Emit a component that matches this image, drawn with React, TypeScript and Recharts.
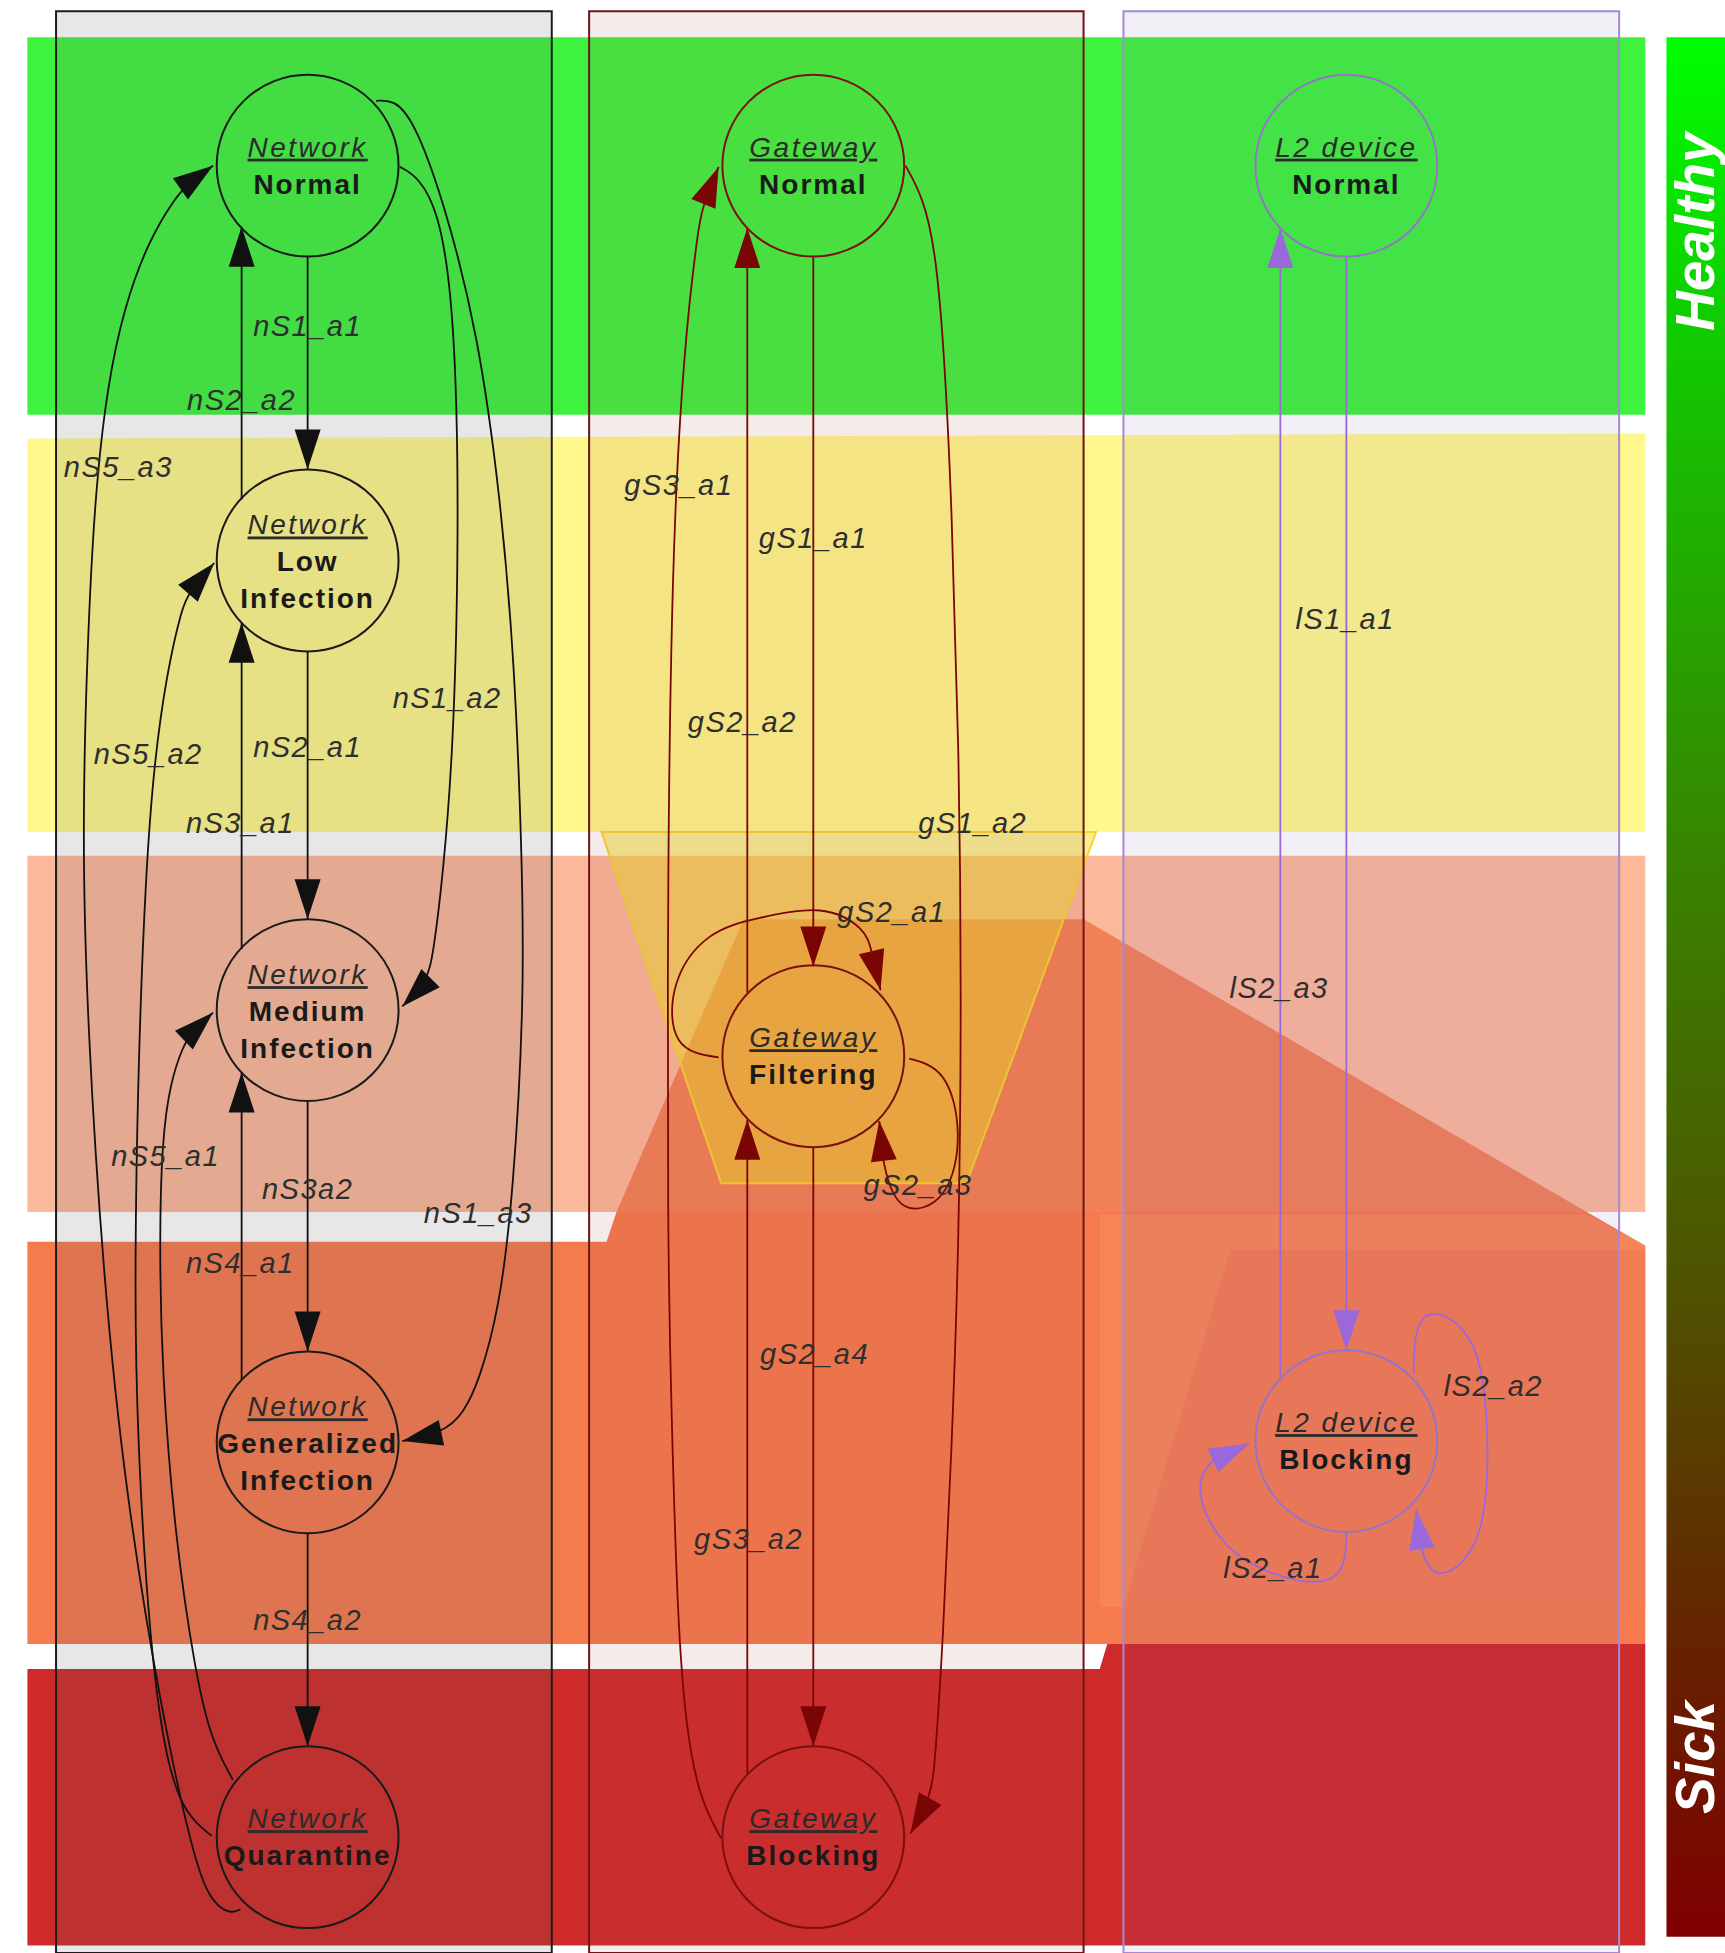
import React from 'react';
import { ScatterChart, Scatter, XAxis, YAxis, Curve } from 'recharts';

// the figure is laid out in its own drawing units, scaled to the page by the axes
const X_MAX = 1385;
const Y_MAX = 1568;
const WIDTH = 1725;
const HEIGHT = 1953;
const K = WIDTH / X_MAX;

type Pt = [number, number];

// health bands, top to bottom
const bandHealthy: Pt[] = [[22, 30], [1321, 30], [1321, 333], [22, 333]];
const bandLow: Pt[] = [[22, 352], [1321, 348], [1321, 668], [22, 668]];
const bandMedium: Pt[] = [[22, 687], [1321, 687], [1321, 973], [22, 973]];
const bandHigh: Pt[] = [[22, 997], [487, 997], [495, 973], [1274, 973], [1321, 1000], [1321, 1320], [22, 1320]];
const bandSick: Pt[] = [[22, 1340], [883, 1340], [889, 1320], [1321, 1320], [1321, 1562], [22, 1562]];

// overlay zones
const gatewaySpread: Pt[] = [[597, 738], [870, 738], [1274, 973], [495, 973]];
const l2Zone: Pt[] = [[883, 975], [1274, 975], [1321, 1000], [1321, 1290], [883, 1290]];
const l2ZoneInner: Pt[] = [[988, 1003], [1321, 1003], [1321, 1290], [902, 1290]];
const filteringFunnel: Pt[] = [[483, 668], [880, 668], [776, 950], [579, 950]];
const healthBar: Pt[] = [[1338, 30], [1385, 30], [1385, 1555], [1338, 1555]];

// component columns
const columnNames = ['net', 'gw', 'l2'];
const columnBoxes: Pt[][] = [
  [[45, 9], [443, 9], [443, 1568], [45, 1568]],
  [[473, 9], [870, 9], [870, 1568], [473, 1568]],
  [[902, 9], [1300, 9], [1300, 1568], [902, 1568]],
];

// states
const nodes = [
  { x: 247, y: 133, group: 'net', kind: 'Network', state: ['Normal'] },
  { x: 247, y: 450, group: 'net', kind: 'Network', state: ['Low', 'Infection'] },
  { x: 247, y: 811, group: 'net', kind: 'Network', state: ['Medium', 'Infection'] },
  { x: 247, y: 1158, group: 'net', kind: 'Network', state: ['Generalized', 'Infection'] },
  { x: 247, y: 1475, group: 'net', kind: 'Network', state: ['Quarantine'] },
  { x: 653, y: 133, group: 'gw', kind: 'Gateway', state: ['Normal'] },
  { x: 653, y: 848, group: 'gw', kind: 'Gateway', state: ['Filtering'] },
  { x: 653, y: 1475, group: 'gw', kind: 'Gateway', state: ['Blocking'] },
  { x: 1081, y: 133, group: 'l2', kind: 'L2 device', state: ['Normal'] },
  { x: 1081, y: 1157, group: 'l2', kind: 'L2 device', state: ['Blocking'] },
];

// transitions: path from source to arrow tip
const edges: { id: string; group: string; path: Pt[] }[] = [
  { id: 'nS1_a1', group: 'net', path: [[247, 206], [247, 377]] },
  { id: 'nS2_a2', group: 'net', path: [[194, 401], [194, 182]] },
  { id: 'nS2_a1', group: 'net', path: [[247, 523], [247, 738]] },
  { id: 'nS3_a1', group: 'net', path: [[194, 762], [194, 500]] },
  { id: 'nS3a2', group: 'net', path: [[247, 884], [247, 1085]] },
  { id: 'nS4_a1', group: 'net', path: [[194, 1108], [194, 861]] },
  { id: 'nS4_a2', group: 'net', path: [[247, 1231], [247, 1402]] },
  { id: 'nS1_a2', group: 'net', path: [[321, 134], [336, 142], [352, 170], [362, 230], [367, 320], [368, 450], [364, 600], [356, 700], [348, 765], [343, 788], [323, 808]] },
  { id: 'nS1_a3', group: 'net', path: [[302, 81], [316, 80], [332, 96], [356, 160], [384, 268], [402, 401], [413, 530], [419, 682], [421, 803], [412, 960], [401, 1050], [385, 1108], [372, 1135], [356, 1150], [323, 1157]] },
  { id: 'nS5_a3', group: 'net', path: [[193, 1533], [184, 1537], [168, 1525], [155, 1490], [129, 1372], [101, 1200], [83, 1028], [70, 820], [66, 670], [70, 520], [76, 400], [86, 310], [100, 245], [120, 192], [140, 160], [150, 148], [171, 133]] },
  { id: 'nS5_a2', group: 'net', path: [[170, 1474], [150, 1458], [134, 1420], [120, 1320], [110, 1150], [108, 1028], [111, 850], [117, 700], [124, 610], [134, 540], [146, 488], [152, 475], [172, 452]] },
  { id: 'nS5_a1', group: 'net', path: [[187, 1429], [170, 1398], [157, 1345], [140, 1230], [130, 1100], [128, 1000], [130, 915], [137, 868], [147, 840], [153, 830], [171, 813]] },
  { id: 'gS1_a1', group: 'gw', path: [[653, 206], [653, 776]] },
  { id: 'gS2_a2', group: 'gw', path: [[600, 797], [600, 183]] },
  { id: 'gS2_a4', group: 'gw', path: [[653, 921], [653, 1402]] },
  { id: 'gS3_a2', group: 'gw', path: [[600, 1424], [600, 899]] },
  { id: 'gS3_a1', group: 'gw', path: [[579, 1476], [562, 1445], [551, 1390], [544, 1303], [539, 1131], [536, 1000], [536, 682], [540, 450], [546, 330], [553, 245], [560, 190], [563, 168], [577, 134]] },
  { id: 'gS1_a2', group: 'gw', path: [[727, 133], [741, 158], [751, 200], [758, 280], [764, 401], [770, 600], [772, 800], [770, 1000], [764, 1166], [757, 1320], [751, 1410], [748, 1442], [731, 1472]] },
  { id: 'gS2_a1', group: 'gw', path: [[577, 849], [545, 835], [543, 790], [570, 752], [610, 737], [658, 731], [690, 745], [700, 765], [707, 795]] },
  { id: 'gS2_a3', group: 'gw', path: [[730, 850], [757, 865], [769, 910], [757, 958], [726, 968], [710, 935], [706, 900]] },
  { id: 'lS1_a1', group: 'l2', path: [[1081, 206], [1081, 1084]] },
  { id: 'lS2_a3', group: 'l2', path: [[1028, 1107], [1028, 183]] },
  { id: 'lS2_a1', group: 'l2', path: [[1081, 1231], [1075, 1262], [1043, 1269], [990, 1245], [964, 1200], [975, 1172], [1003, 1159]] },
  { id: 'lS2_a2', group: 'l2', path: [[1135, 1103], [1139, 1065], [1158, 1056], [1184, 1084], [1194, 1151], [1187, 1231], [1158, 1263], [1142, 1245], [1137, 1212]] },
];

const edgeLabels = [
  { x: 247, y: 262, text: 'nS1_a1' },
  { x: 194, y: 321, text: 'nS2_a2' },
  { x: 95, y: 375, text: 'nS5_a3' },
  { x: 119, y: 605, text: 'nS5_a2' },
  { x: 247, y: 600, text: 'nS2_a1' },
  { x: 359, y: 560, text: 'nS1_a2' },
  { x: 193, y: 661, text: 'nS3_a1' },
  { x: 133, y: 928, text: 'nS5_a1' },
  { x: 247, y: 955, text: 'nS3a2' },
  { x: 384, y: 974, text: 'nS1_a3' },
  { x: 193, y: 1014, text: 'nS4_a1' },
  { x: 247, y: 1301, text: 'nS4_a2' },
  { x: 545, y: 389, text: 'gS3_a1' },
  { x: 653, y: 432, text: 'gS1_a1' },
  { x: 596, y: 580, text: 'gS2_a2' },
  { x: 781, y: 661, text: 'gS1_a2' },
  { x: 716, y: 732, text: 'gS2_a1' },
  { x: 737, y: 951, text: 'gS2_a3' },
  { x: 654, y: 1087, text: 'gS2_a4' },
  { x: 601, y: 1236, text: 'gS3_a2' },
  { x: 1080, y: 497, text: 'lS1_a1' },
  { x: 1027, y: 793, text: 'lS2_a3' },
  { x: 1199, y: 1113, text: 'lS2_a2' },
  { x: 1022, y: 1259, text: 'lS2_a1' },
];

const scaleLabels = [
  { x: 1361, y: 186, text: 'Healthy' },
  { x: 1361, y: 1411, text: 'Sick' },
];

const FONT = '"Liberation Sans", Arial, sans-serif';
const groupColor: Record<string, { line: string; node: string; box: string; boxFill: string; boxOpacity: number }> = {
  net: { line: '#111111', node: '#1a1a1a', box: '#1c1c1c', boxFill: '#606060', boxOpacity: 0.15 },
  gw: { line: '#7a0505', node: '#7a1010', box: '#6e1414', boxFill: '#a04848', boxOpacity: 0.11 },
  l2: { line: '#9a68da', node: '#9474c8', box: '#a58ad2', boxFill: '#7050a8', boxOpacity: 0.09 },
};

const toData = (pts: Pt[]) => pts.map(([x, y]) => ({ x, y }));
const noDot = () => <g />;

function region(key: string, pts: Pt[], fill: string, opacity = 1, stroke = 'none', strokeWidth = 0) {
  return (
    <Scatter
      key={key}
      data={toData(pts)}
      shape={noDot}
      isAnimationActive={false}
      line={(p: any) => (
        <Curve
          points={p.points}
          type="linearClosed"
          fill={fill}
          fillOpacity={opacity}
          stroke={stroke}
          strokeWidth={strokeWidth}
        />
      )}
    />
  );
}

// long edges use a b-spline (no overshoot), short loops a natural spline
function EdgePath({ points, color }: { points: { x: number; y: number }[]; color: string }) {
  const n = points.length;
  const tip = points[n - 1];
  const prev = points[n - 2];
  const dx = tip.x - prev.x;
  const dy = tip.y - prev.y;
  const len = Math.hypot(dx, dy) || 1;
  const ux = dx / len;
  const uy = dy / len;
  const bx = tip.x - ux * 40;
  const by = tip.y - uy * 40;
  const head = `${tip.x},${tip.y} ${bx - uy * 13},${by + ux * 13} ${bx + uy * 13},${by - ux * 13}`;

  const down = tip.y >= points[0].y;
  const monotone = points.every((p, i) => i === 0 || (down ? p.y >= points[i - 1].y - 8 : p.y <= points[i - 1].y + 8));
  const type = n <= 2 ? 'linear' : monotone ? 'basis' : 'natural';
  return (
    <g>
      <Curve points={points} type={type as any} stroke={color} strokeWidth={1.8} fill="none" />
      <polygon points={head} fill={color} />
    </g>
  );
}

function NodeShape(props: any) {
  const { cx, cy, payload } = props;
  const c = groupColor[payload.group];
  const lines: string[] = payload.state;
  const first = lines.length === 1 ? -9 : -26;
  return (
    <g fontFamily={FONT}>
      <circle cx={cx} cy={cy} r={73 * K} fill="none" stroke={c.node} strokeWidth={2} />
      <text
        x={cx}
        y={cy + first}
        textAnchor="middle"
        fontStyle="italic"
        fontSize={28}
        letterSpacing={2.5}
        fill="#2b2b2b"
        textDecoration="underline"
      >
        {payload.kind}
      </text>
      {lines.map((s, i) => (
        <text
          key={s}
          x={cx}
          y={cy + first + 37 * (i + 1)}
          textAnchor="middle"
          fontWeight="bold"
          fontSize={28}
          letterSpacing={2}
          fill="#1a1a1a"
        >
          {s}
        </text>
      ))}
    </g>
  );
}

function EdgeLabel(props: any) {
  const { cx, cy, payload } = props;
  return (
    <text
      x={cx}
      y={cy}
      textAnchor="middle"
      dominantBaseline="central"
      fontFamily={FONT}
      fontStyle="italic"
      fontSize={29}
      letterSpacing={1.5}
      fill="#2e2e2e"
    >
      {payload.text}
    </text>
  );
}

function ScaleLabel(props: any) {
  const { cx, cy, payload } = props;
  return (
    <text
      x={cx}
      y={cy}
      transform={`rotate(-90 ${cx} ${cy})`}
      textAnchor="middle"
      dominantBaseline="central"
      fontFamily={FONT}
      fontStyle="italic"
      fontWeight="bold"
      fontSize={55}
      fill="#ffffff"
    >
      {payload.text}
    </text>
  );
}

export default function App() {
  return (
    <>
      <style>{'body{margin:0;background:#fff}'}</style>
      <ScatterChart width={WIDTH} height={HEIGHT} margin={{ top: 0, right: 0, bottom: 0, left: 0 }}>
        <XAxis type="number" dataKey="x" domain={[0, X_MAX]} allowDataOverflow hide />
        <YAxis type="number" dataKey="y" domain={[0, Y_MAX]} reversed allowDataOverflow hide />

        {region('band-healthy', bandHealthy, '#3ff23f')}
        {region('band-low', bandLow, '#fff88c')}
        {region('band-medium', bandMedium, '#fbb89a')}
        {region('band-high', bandHigh, '#f57a4e')}
        {region('band-sick', bandSick, '#cf2a2a')}

        {region('gateway-spread', gatewaySpread, '#ee6a3c', 0.7)}
        {region('l2-zone', l2Zone, '#ffa070', 0.3)}
        {region('l2-zone-inner', l2ZoneInner, '#e86040', 0.22)}
        {region('filtering-funnel', filteringFunnel, '#f0e028', 0.5, '#f7d330', 2)}

        <Scatter
          key="health-bar"
          data={toData(healthBar)}
          shape={noDot}
          isAnimationActive={false}
          line={(p: any) => (
            <g>
              <defs>
                <linearGradient id="healthGrad" x1="0" y1="0" x2="0" y2="1">
                  <stop offset="0" stopColor="#00ff00" />
                  <stop offset="0.15" stopColor="#10cc00" />
                  <stop offset="0.45" stopColor="#3a7f00" />
                  <stop offset="0.65" stopColor="#4e5400" />
                  <stop offset="0.85" stopColor="#662200" />
                  <stop offset="1" stopColor="#800000" />
                </linearGradient>
              </defs>
              <Curve points={p.points} type="linearClosed" fill="url(#healthGrad)" stroke="none" />
            </g>
          )}
        />

        {columnBoxes.map((box, i) => {
          const c = groupColor[columnNames[i]];
          return region(`col-${i}`, box, c.boxFill, c.boxOpacity, c.box, 2);
        })}

        {edges.map(e => (
          <Scatter
            key={e.id}
            data={toData(e.path)}
            shape={noDot}
            isAnimationActive={false}
            line={(p: any) => <EdgePath points={p.points} color={groupColor[e.group].line} />}
          />
        ))}

        <Scatter key="nodes" data={nodes} shape={NodeShape} isAnimationActive={false} />
        <Scatter key="edge-labels" data={edgeLabels} shape={EdgeLabel} isAnimationActive={false} />
        <Scatter key="scale-labels" data={scaleLabels} shape={ScaleLabel} isAnimationActive={false} />
      </ScatterChart>
    </>
  );
}
